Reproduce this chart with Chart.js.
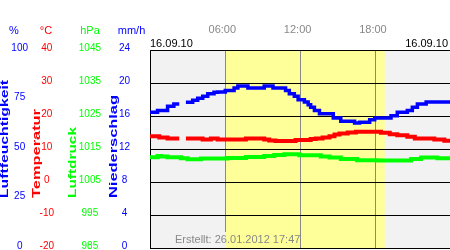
<!DOCTYPE html>
<html lang="de">
<head>
  <meta charset="UTF-8" />
  <title>Wetter 16.09.10</title>
  <style>
    body {
      margin: 0;
      background: #fff;
    }
    canvas {
      display: block;
    }
  </style>
</head>
<body>
  <canvas id="wetter" width="450" height="250"></canvas>

  <script src="https://cdn.jsdelivr.net/npm/chart.js"></script>
  <script>
    // Werte (Stunden seit 00:00)
    const humHours = [0, 0.6, 1.4, 1.9, 2.33, 2.34, 2.86, 3.4, 3.8, 4.2, 4.6, 5.1, 5.4, 6.0, 6.7, 7.0, 7.8, 9.1, 9.8, 10.8,
      11.1, 11.5, 11.8, 12.3, 12.6, 12.8, 13.1, 13.5, 14.6, 15.2, 16.3, 16.7, 17.5, 17.9, 19.2, 19.7, 20.5, 20.9, 21.3, 22.0, 23.9];
    const humValues = [68.5, 69.5, 71.6, 72.7, 72.7, null, 73.6, 74.6, 75.6, 76.6, 77.9, 78.6, 78.8, 79.6, 80.8, 81.8, 80.8, 81.8, 80.8, 79.6,
      77.9, 76.6, 74.9, 73.7, 72.4, 71.1, 69.5, 67.8, 65.7, 64.0, 63.1, 63.5, 64.8, 65.7, 66.8, 68.5, 69.5, 71.1, 72.7, 73.7, 73.7];

    const tempHours = [0, 0.74, 1.4, 2.33, 2.34, 2.86, 4.19, 4.85, 5.39, 7.64, 9.1, 9.5, 10.0, 11.6, 12.8, 13.2, 13.75, 14.3, 14.7, 15.1,
      15.75, 16.4, 18.4, 19.1, 19.7, 20.5, 21.1, 22.65, 23.45, 23.9];
    const tempValues = [13.9, 13.5, 13.2, 13.2, null, 13.2, 12.9, 13.2, 12.9, 13.2, 12.9, 12.6, 12.4, 12.7, 13.0, 13.2, 13.5, 13.9, 14.4, 14.7,
      15.0, 15.2, 14.9, 14.5, 14.2, 13.7, 13.2, 12.9, 12.5, 12.5];

    const presHours = [0, 0.6, 0.87, 1.4, 2.46, 3.0, 4.06, 6.18, 7.64, 9.1, 9.9, 10.7, 11.9, 13.6, 14.3, 15.2, 16.5, 18.1, 20.8, 21.6, 22.9, 23.9];
    const presValues = [1012.5, 1012.9, 1012.7, 1012.5, 1012.2, 1011.9, 1012.1, 1012.3, 1012.6, 1012.9, 1013.2, 1013.4, 1013.1, 1012.7,
      1012.4, 1012.0, 1011.6, 1011.5, 1012.0, 1012.4, 1012.2, 1012.2];

    const timeTicks = [6, 12, 18];
    const sunrise = 6.0;
    const sunset = 18.7;
    const hourMax = 23.9;

    const dateLabel = '16.09.10';
    const createdLabel = 'Erstellt: 26.01.2012 17:47';

    const BLUE = '#0000ff';
    const RED = '#ff0000';
    const GREEN = '#00ff00';
    const NIGHT = '#f2f2f2';
    const DAY = '#ffff99';
    const FONT = "'Liberation Sans', Arial, sans-serif";

    Chart.defaults.font.family = FONT;

    const toPoints = (hours, values) => hours.map((h, i) => ({ x: h, y: values[i] }));

    const lineStyle = {
      type: 'line',
      pointRadius: 0,
      stepped: true,
      spanGaps: false,
      borderCapStyle: 'butt'
    };

    function paintBackground(chart, top) {
      const { ctx, chartArea: a, scales: { x } } = chart;
      const x0 = x.getPixelForValue(sunrise);
      const x1 = x.getPixelForValue(sunset);
      ctx.fillStyle = NIGHT;
      ctx.fillRect(a.left, top, a.right - a.left, a.bottom - top);
      ctx.fillStyle = DAY;
      ctx.fillRect(x0, top, x1 - x0, a.bottom - top);
    }

    // Hintergrund (Nacht grau, Tag gelb) und Beschriftungen
    const wetterPlugin = {
      id: 'wetterPlugin',
      beforeDraw(chart) {
        chart.ctx.save();
        paintBackground(chart, chart.chartArea.top);
        chart.ctx.restore();
      },
      beforeDatasetsDraw(chart) {
        // Rasterlinie endet oberhalb des "Erstellt"-Textes
        const { ctx, chartArea: a, scales: { x } } = chart;
        timeTicks.forEach(v => {
          const px = Math.floor(x.getPixelForValue(v));
          if (px < 175 || px > 297) return;
          ctx.save();
          ctx.beginPath();
          ctx.rect(px, 232, 1, a.bottom - 232);
          ctx.clip();
          paintBackground(chart, 232);
          ctx.restore();
        });
      },
      afterDraw(chart) {
        const ctx = chart.ctx;
        ctx.save();
        ctx.font = '11px ' + FONT;
        ctx.textBaseline = 'middle';
        ctx.textAlign = 'center';

        // Einheiten oben
        [['%', 14, BLUE], ['°C', 46, RED], ['hPa', 90, GREEN], ['mm/h', 131.5, BLUE]].forEach(([t, cx, c]) => {
          ctx.fillStyle = c;
          ctx.fillText(t, cx, 31);
        });

        ctx.fillStyle = '#000';
        ctx.textAlign = 'left';
        ctx.fillText(dateLabel, 150, 44);
        ctx.textAlign = 'right';
        ctx.fillText(dateLabel, 448, 44);

        ctx.fillStyle = '#888';
        ctx.textAlign = 'left';
        ctx.fillText(createdLabel, 175, 240);

        // gedehnte, senkrechte Achsentitel
        ctx.font = 'bold 11px ' + FONT;
        ctx.textBaseline = 'alphabetic';
        ctx.textAlign = 'left';
        [['Luftfeuchtigkeit', 7.5, 118, BLUE], ['Temperatur', 39.5, 89, RED],
         ['Luftdruck', 76, 71, GREEN], ['Niederschlag', 116.5, 103, BLUE]].forEach(([t, xb, len, c]) => {
          ctx.save();
          ctx.translate(xb, 198);
          ctx.rotate(-Math.PI / 2);
          ctx.scale(len / ctx.measureText(t).width, 1);
          ctx.fillStyle = c;
          ctx.fillText(t, 0, 0);
          ctx.restore();
        });
        ctx.restore();
      }
    };

    const yAxis = (weight, width, min, max, step, color, pad, extra) => Object.assign({
      position: 'left',
      weight,
      min,
      max,
      afterFit: s => {
        s.width = width;
        s.paddingTop = 0;
        s.paddingBottom = 0;
      },
      grid: { display: false, drawTicks: false },
      border: { display: false },
      ticks: {
        stepSize: step,
        color,
        crossAlign: 'center',
        padding: pad,
        labelOffset: -2,
        font: { size: 10 },
        callback: v => String(v)
      }
    }, extra || {});

    new Chart(document.getElementById('wetter'), {
      data: {
        datasets: [
          Object.assign({}, lineStyle, {
            label: 'Luftfeuchtigkeit',
            data: toPoints(humHours, humValues),
            borderColor: BLUE,
            borderWidth: 3.5,
            yAxisID: 'hum'
          }),
          Object.assign({}, lineStyle, {
            label: 'Temperatur',
            data: toPoints(tempHours, tempValues),
            borderColor: RED,
            borderWidth: 4,
            yAxisID: 'temp'
          }),
          Object.assign({}, lineStyle, {
            label: 'Luftdruck',
            data: toPoints(presHours, presValues),
            borderColor: GREEN,
            borderWidth: 4,
            yAxisID: 'pres'
          })
        ]
      },
      options: {
        responsive: false,
        animation: false,
        layout: { padding: { left: 0, right: 0, top: 0, bottom: 2 } },
        plugins: {
          legend: { display: false },
          tooltip: { enabled: false }
        },
        scales: {
          x: {
            type: 'linear',
            position: 'top',
            min: 0,
            max: hourMax,
            afterFit: s => {
              s.height = 50;
              s.paddingLeft = 0;
              s.paddingRight = 0;
            },
            afterBuildTicks: s => { s.ticks = timeTicks.map(v => ({ value: v })); },
            grid: { color: '#888', lineWidth: 1, drawTicks: false },
            border: { display: true, color: '#000', width: 1 },
            ticks: {
              color: '#888',
              padding: 13,
              labelOffset: -3,
              maxRotation: 0,
              autoSkip: false,
              font: { size: 11 },
              callback: v => String(v).padStart(2, '0') + ':00'
            }
          },
          hum: yAxis(4, 33, 0, 100, 25, BLUE, 5),
          temp: yAxis(3, 31, -20, 40, 10, RED, 10, {
            grid: { display: true, color: '#000', lineWidth: 1, drawTicks: false }
          }),
          pres: yAxis(2, 42, 985, 1045, 10, GREEN, 5),
          rain: yAxis(1, 44, 0, 24, 4, BLUE, 20, {
            border: { display: true, color: '#000', width: 1 }
          })
        }
      },
      plugins: [wetterPlugin]
    });
  </script>
</body>
</html>
